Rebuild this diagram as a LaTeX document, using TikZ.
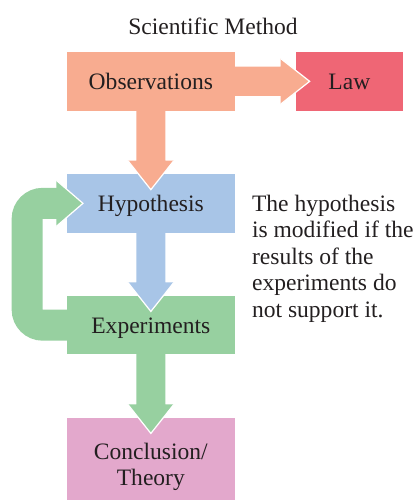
\documentclass[tikz,border=0pt]{standalone}
\usepackage{fontspec}
\setmainfont{Liberation Serif}
\usetikzlibrary{calc}
\definecolor{obsColor}{HTML}{F8AC90}
\definecolor{lawColor}{HTML}{EF6675}
\definecolor{hypColor}{HTML}{A8C5E7}
\definecolor{expColor}{HTML}{97D0A0}
\definecolor{conColor}{HTML}{E3A8CC}
\definecolor{textColor}{HTML}{231F20}

\begin{document}
\begin{tikzpicture}
[x=0.02cm, y=-0.02cm,
  boxDecorate/.style={shape=rectangle,inner sep=0pt,minimum width=3.366cm,minimum height=1.174cm,text=textColor},
  lineDecorate/.style={boxDecorate,text height=9.6pt,text depth=0pt},
  edgeDecorate/.style={draw=white,line width=0.7pt,line join=miter},
  loopDecorate/.style={draw=expColor,line width=17.6pt,rounded corners=8.8pt},
  font=\fontsize{13.4}{15.1}\selectfont]
\useasboundingbox (0,0) rectangle (419,500);
\clip (0,0) rectangle (419,500);
%% title
\node (title) at (213,26.5) [text=textColor] {Scientific Method};
%% boxes
\node (obs) at (150.85,81.35) [lineDecorate,fill=obsColor] {Observations};
\node (law) at (349.35,81.35) [lineDecorate,fill=lawColor,minimum width=2.134cm] {Law};
\node (hyp) at (150.85,203.35) [lineDecorate,fill=hypColor] {Hypothesis};
\node (exper) at (150.85,325.15) [lineDecorate,fill=expColor] {Experiments};
\node (concl) at (150.85,467) [boxDecorate,fill=conColor,minimum height=1.97cm,align=center] {Conclusion/\\Theory};
%% note on the right
\node (note) at (251.7,194.5) [anchor=north west,inner sep=0pt,align=left,text=textColor]
  {The hypothesis\\is modified if the\\results of the\\experiments do\\not support it.};
%% block arrows going down
\foreach \fromnode/\tonode/\arrowcolor in {obs/hyp/obsColor, hyp/exper/hypColor, exper/concl/expColor}
{
  \fill[\arrowcolor] ($(\fromnode.south)+(-14.5,-1)$) -- ($(\tonode.north)+(-14.5,-13)$)
    -- ($(\tonode.north)+(-23,-13)$) -- ($(\tonode.north)+(0,16)$) -- ($(\tonode.north)+(23,-13)$)
    -- ($(\tonode.north)+(14.5,-13)$) -- ($(\fromnode.south)+(14.5,-1)$) -- cycle;
  \draw[edgeDecorate] ($(\tonode.north)+(-23,-13)$) -- ($(\tonode.north)+(0,16)$) -- ($(\tonode.north)+(23,-13)$);
}
%% observations to law
\fill[obsColor] ($(obs.east)+(-1,-14.6)$) -- ($(law.west)+(-15,-14.6)$) -- ($(law.west)+(-15,-22.8)$)
  -- ($(law.west)+(14,0)$) -- ($(law.west)+(-15,22.8)$) -- ($(law.west)+(-15,14.6)$)
  -- ($(obs.east)+(-1,14.6)$) -- cycle;
\draw[edgeDecorate] ($(law.west)+(-15,-22.8)$) -- ($(law.west)+(14,0)$) -- ($(law.west)+(-15,22.8)$);
%% loop back from experiments to hypothesis
\draw[loopDecorate] ($(exper.west)+(1,0)$) -| ($(hyp.west)+(-39.2,0)$) -- ($(hyp.west)+(-9,0)$);
\fill[expColor] ($(hyp.west)+(-10,-23)$) -- ($(hyp.west)+(16.6,0)$) -- ($(hyp.west)+(-10,23)$) -- cycle;
\draw[edgeDecorate] ($(hyp.west)+(-10,-23)$) -- ($(hyp.west)+(16.6,0)$) -- ($(hyp.west)+(-10,23)$);
\end{tikzpicture}
\end{document}
